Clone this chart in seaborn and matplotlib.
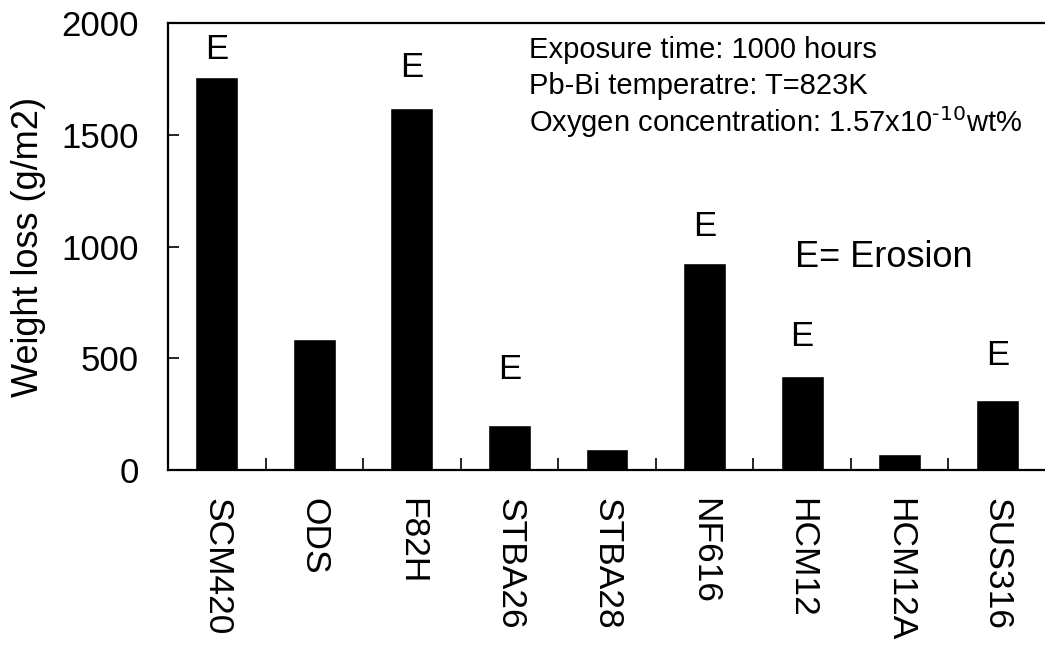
import pandas as pd
import seaborn as sns
import matplotlib.pyplot as plt
from matplotlib.ticker import FixedLocator

# --- data ---
materials = ["SCM420", "ODS", "F82H", "STBA26", "STBA28",
             "NF616", "HCM12", "HCM12A", "SUS316"]
weight_loss = [1760, 585, 1620, 200, 95, 925, 420, 70, 315]
erosion = [True, False, True, True, False, True, True, False, True]
y_ticks = [0, 500, 1000, 1500, 2000]

notes = ["Exposure time: 1000 hours",
         "Pb-Bi temperatre: T=823K",
         r"Oxygen concentration: 1.57x10$^{\text{-10}}$wt%"]

# gap (px) between bar top and its "E" label, as drawn in the original
e_gap_px = [27, 0, 40, 56, 0, 37, 40, 0, 44]

sns.set_theme(style="white")
plt.rcParams["font.family"] = ["Liberation Sans", "DejaVu Sans"]
plt.rcParams["mathtext.default"] = "regular"
plt.rcParams["text.color"] = "black"
plt.rcParams["axes.labelcolor"] = "black"
plt.rcParams["xtick.color"] = "black"
plt.rcParams["ytick.color"] = "black"

df = pd.DataFrame({"material": materials, "loss": weight_loss})

fig = plt.figure(figsize=(10.45, 6.46), dpi=100)
ax = fig.add_axes([168 / 1045, 1 - 470 / 646, (1046 - 168) / 1045, 447 / 646])

sns.barplot(data=df, x="material", y="loss", color="black",
            saturation=1, width=0.44, ax=ax)

ax.set_xlim(-0.5, len(materials) - 0.5)
ax.set_ylim(0, 2000)
ax.set_yticks(y_ticks)
ax.set_xlabel("")
ax.set_ylabel("Weight loss (g/m2)", fontsize=26, labelpad=11)

# category labels without ticks, ticks between categories
ax.tick_params(axis="x", which="major", length=0, pad=20, labelsize=25.5,
               labelrotation=-90)
ax.xaxis.set_minor_locator(FixedLocator([i + 0.5 for i in range(len(materials) - 1)]))
ax.tick_params(axis="x", which="minor", direction="in", length=9, width=1.2,
               color="black", bottom=True)
ax.tick_params(axis="y", direction="in", length=8, width=1.2, color="black",
               left=True, pad=21, labelsize=25)
for lab in ax.get_xticklabels():
    lab.set_va("top")
    lab.set_ha("center")

for side in ["left", "bottom", "top"]:
    ax.spines[side].set_color("black")
    ax.spines[side].set_linewidth(1.6)
ax.spines["right"].set_visible(False)

# erosion markers
for i, (v, e, gap) in enumerate(zip(weight_loss, erosion, e_gap_px)):
    if e:
        ax.annotate("E", (i, v), xytext=(0, gap * 0.72), textcoords="offset points",
                    ha="center", va="center", fontsize=25)

# conditions text
for j, t in enumerate(notes):
    ax.text(3.2, 1879 - j * 162, t, fontsize=21, va="center", ha="left")

ax.text(5.93, 949, "E= Erosion", fontsize=26, va="center", ha="left")

fig.savefig("out.png", dpi=100)
